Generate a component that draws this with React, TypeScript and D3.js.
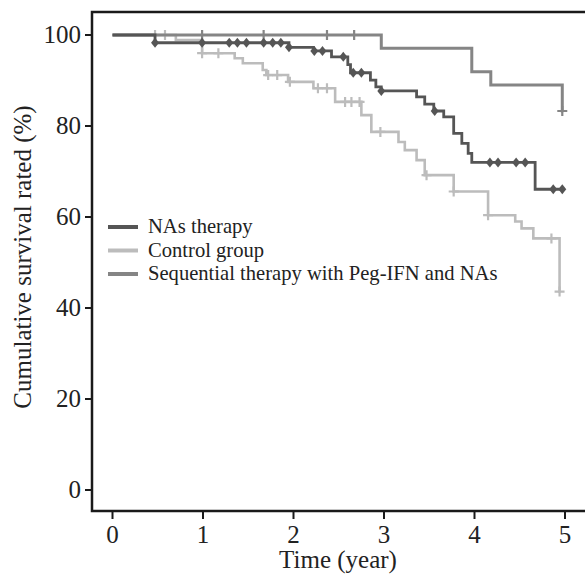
import React from "react";
import * as d3 from "d3";

const xTicks = [0, 1, 2, 3, 4, 5];
const yTicks = [0, 20, 40, 60, 80, 100];

// Kaplan-Meier step points [time, survival%]
const nasSteps: [number, number][] = [
  [0, 100], [0.47, 98.3], [1.95, 97.3], [2.22, 96.5], [2.42, 95.2], [2.6, 93.5], [2.63, 91.7],
  [2.85, 90.1], [2.91, 88.6], [2.97, 87.7], [3.36, 86.4], [3.45, 84.8], [3.55, 83.3],
  [3.66, 82.0], [3.77, 78.4], [3.86, 76.2], [3.93, 74.0], [3.97, 72.0], [4.67, 66.1], [4.98, 66.1],
];
const nasCensor: [number, number][] = [
  [0.47, 98.3], [0.99, 98.3], [1.29, 98.3], [1.38, 98.3], [1.48, 98.3], [1.67, 98.3], [1.77, 98.3],
  [1.86, 98.3], [1.95, 97.3], [2.23, 96.5], [2.32, 96.5], [2.55, 95.2], [2.66, 91.7], [2.75, 91.7],
  [2.97, 87.7], [3.56, 83.3], [4.17, 72.0], [4.26, 72.0], [4.46, 72.0], [4.56, 72.0],
  [4.87, 66.1], [4.97, 66.1],
];

const ctrlSteps: [number, number][] = [
  [0, 100], [0.7, 98.9], [0.99, 96.0], [1.35, 94.9], [1.44, 93.8], [1.66, 92.3], [1.7, 91.2],
  [1.94, 89.7], [2.22, 88.3], [2.46, 85.3], [2.75, 82.4], [2.86, 78.7], [3.16, 76.5],
  [3.23, 74.7], [3.36, 72.5], [3.45, 69.2], [3.77, 65.6], [4.15, 60.4], [4.45, 59.0],
  [4.52, 57.5], [4.65, 55.3], [4.94, 43.6], [4.95, 43.6],
];
const ctrlCensor: [number, number][] = [
  [0.47, 100], [0.58, 100], [0.99, 96.0], [1.17, 96.0], [1.72, 91.2], [1.82, 91.2], [1.96, 89.7],
  [2.27, 88.3], [2.37, 88.3], [2.57, 85.3], [2.64, 85.3], [2.73, 85.3], [2.96, 78.7],
  [3.47, 69.2], [3.77, 65.6], [4.15, 60.4], [4.85, 55.3], [4.94, 43.6],
];

const seqSteps: [number, number][] = [
  [0, 100], [2.97, 97.1], [3.97, 91.9], [4.18, 89.0], [4.97, 83.3], [4.98, 83.3],
];
const seqCensor: [number, number][] = [
  [0.99, 100], [1.67, 100], [2.37, 100], [2.67, 100], [4.97, 83.3],
];

const legendLabels = ["NAs therapy", "Control group", "Sequential therapy with Peg-IFN and NAs"];
const colors = { nas: "#555555", ctrl: "#bcbcbc", seq: "#858585" };

export default function App() {
  const W = 585, H = 577;
  const x = d3.scaleLinear().domain([0, 5]).range([112.5, 565]);
  const y = d3.scaleLinear().domain([0, 100]).range([490, 35]);
  const line = d3.line<[number, number]>().x(d => x(d[0])).y(d => y(d[1])).curve(d3.curveStepAfter);
  const font = "'Liberation Serif', 'Times New Roman', serif";
  const left = 92, top = 12, bottom = 511;
  const axFs = 25;

  const plus = (pts: [number, number][], color: string, key: string) =>
    pts.map((p, i) => (
      <path key={key + i} d={`M${x(p[0]) - 5},${y(p[1])}h10M${x(p[0])},${y(p[1]) - 5}v10`}
        stroke={color} strokeWidth={2.2} fill="none" />
    ));
  const diamonds = (pts: [number, number][], color: string, key: string) =>
    pts.map((p, i) => (
      <path key={key + i} d={`M${x(p[0])},${y(p[1]) - 5}l4,5l-4,5l-4,-5z`} fill={color} />
    ));

  return (
    <svg width={W} height={H} style={{ position: "absolute", left: 0, top: 0, background: "#fff" }}>
      <rect x={0} y={0} width={W} height={H} fill="#fff" />
      {/* frame */}
      <path d={`M${W + 5},${top}H${left}V${bottom}H${W + 5}`} fill="none" stroke="#1a1a1a" strokeWidth={2.5} />
      {/* y ticks */}
      {yTicks.map(t => (
        <g key={"y" + t}>
          <line x1={left - 7} x2={left} y1={y(t)} y2={y(t)} stroke="#1a1a1a" strokeWidth={2} />
          <text x={81} y={y(t) + 8} textAnchor="end" fontFamily={font} fontSize={axFs} fill="#222">{t}</text>
        </g>
      ))}
      {/* x ticks */}
      {xTicks.map(t => (
        <g key={"x" + t}>
          <line x1={x(t)} x2={x(t)} y1={bottom} y2={bottom + 8} stroke="#1a1a1a" strokeWidth={2} />
          <text x={x(t)} y={543} textAnchor="middle" fontFamily={font} fontSize={axFs} fill="#222">{t}</text>
        </g>
      ))}
      <text x={338} y={568} textAnchor="middle" fontFamily={font} fontSize={axFs} fill="#222">Time (year)</text>
      <text transform="translate(31,257) rotate(-90)" textAnchor="middle" fontFamily={font} fontSize={axFs} fill="#222">
        Cumulative survival rated (%)
      </text>

      {/* curves */}
      <path d={line(ctrlSteps) || ""} fill="none" stroke={colors.ctrl} strokeWidth={2.6} />
      {plus(ctrlCensor, colors.ctrl, "c")}
      <path d={line(seqSteps) || ""} fill="none" stroke={colors.seq} strokeWidth={3} />
      {plus(seqCensor, colors.seq, "s")}
      <path d={line(nasSteps) || ""} fill="none" stroke={colors.nas} strokeWidth={2.8} />
      {diamonds(nasCensor, colors.nas, "n")}

      {/* legend */}
      {legendLabels.map((l, i) => {
        const c = [colors.nas, colors.ctrl, colors.seq][i];
        const yy = 227 + i * 23.5;
        return (
          <g key={"l" + i}>
            <line x1={108} x2={138} y1={yy} y2={yy} stroke={c} strokeWidth={4} />
            <text x={148} y={yy + 6} fontFamily={font} fontSize={20.6} fill="#222">{l}</text>
          </g>
        );
      })}
    </svg>
  );
}
